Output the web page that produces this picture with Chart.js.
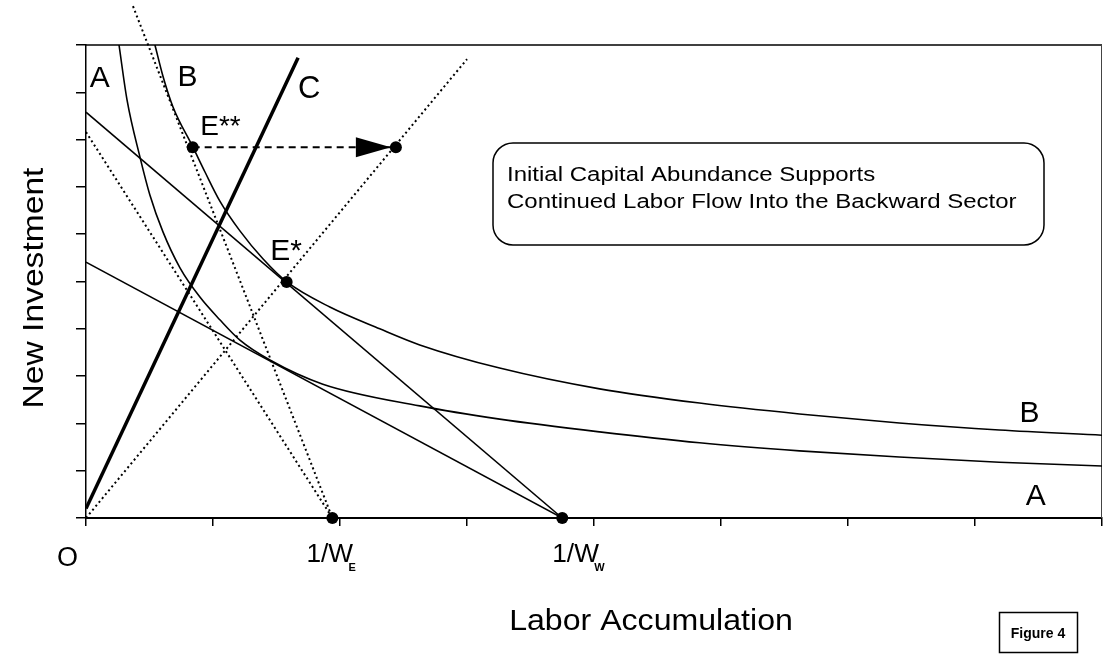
<!DOCTYPE html>
<html>
<head>
<meta charset="utf-8">
<script src="https://cdn.jsdelivr.net/npm/chart.js@4.4.1/dist/chart.umd.min.js"></script>
<style>
  html, body { margin: 0; padding: 0; background: #fff; }
  #wrap { width: 1103px; height: 664px; }
</style>
</head>
<body>
<div id="wrap"><canvas id="chart" width="1103" height="664"></canvas></div>
<script>
// Curve A
const curveA = [
    { x: 0.26, y: 10.0 }, { x: 0.323, y: 8.84 }, { x: 0.425, y: 7.63 }, { x: 0.503, y: 6.83 },
    { x: 0.606, y: 6.05 }, { x: 0.74, y: 5.29 }, { x: 0.897, y: 4.67 }, { x: 1.054, y: 4.19 },
    { x: 1.212, y: 3.76 }, { x: 1.448, y: 3.34 }, { x: 1.865, y: 2.83 }, { x: 2.628, y: 2.37 },
    { x: 3.257, y: 2.09 }, { x: 4.044, y: 1.82 }, { x: 4.831, y: 1.59 }, { x: 5.618, y: 1.42 },
    { x: 6.404, y: 1.29 }, { x: 7.191, y: 1.18 }, { x: 8.0, y: 1.10 }
]

// Curve B
const curveB = [
    { x: 0.543, y: 10.0 }, { x: 0.606, y: 9.34 }, { x: 0.685, y: 8.69 }, { x: 0.842, y: 7.84 },
    { x: 0.936, y: 7.32 }, { x: 1.054, y: 6.70 }, { x: 1.212, y: 6.07 }, { x: 1.393, y: 5.48 },
    { x: 1.582, y: 4.99 }, { x: 1.92, y: 4.46 }, { x: 2.313, y: 4.00 }, { x: 2.628, y: 3.66 },
    { x: 3.257, y: 3.17 }, { x: 4.044, y: 2.73 }, { x: 4.831, y: 2.43 }, { x: 5.618, y: 2.20 },
    { x: 6.404, y: 2.01 }, { x: 7.191, y: 1.86 }, { x: 8.0, y: 1.75 }
]

// Line C (thick)
const lineC = [{ x: 0, y: 0.2 }, { x: 1.67, y: 9.73 }]

// Budget lines ending at 1/wW
const budgetW1 = [{ x: 0, y: 8.58 }, { x: 3.75, y: 0 }]
const budgetW2 = [{ x: 0, y: 5.41 }, { x: 3.75, y: 0 }]

// Dotted lines ending at 1/wE, and the ray from O
const budgetE1 = [{ x: 0, y: 8.16 }, { x: 1.94, y: 0 }]
const budgetE2 = [{ x: 0.37, y: 10.82 }, { x: 1.94, y: 0 }]
const rayO = [{ x: 0, y: 0 }, { x: 3.0, y: 9.7 }]

// Horizontal move E** -> ray
const arrowMove = [{ x: 0.84, y: 7.84 }, { x: 2.44, y: 7.84 }]

// Marked points: E**, arrow end, E*, 1/wE, 1/wW
const markedPts = [
    { x: 0.84, y: 7.84 }, { x: 2.44, y: 7.84 }, { x: 1.58, y: 4.99 },
    { x: 1.94, y: 0 }, { x: 3.75, y: 0 }
]

// Labels inside the plot (data units)
const plotLabels = [
    { text: 'A', x: 0.03, y: 9.11, size: 30 },
    { text: 'B', x: 0.72, y: 9.13, size: 30 },
    { text: 'C', x: 1.67, y: 8.88, size: 31 },
    { text: 'E**', x: 0.90, y: 8.10, size: 28 },
    { text: 'E*', x: 1.45, y: 5.45, size: 30 },
    { text: 'B', x: 7.35, y: 2.03, size: 30 },
    { text: 'A', x: 7.40, y: 0.27, size: 30 },
]

const boxLines = [
    'Initial Capital Abundance Supports',
    'Continued Labor Flow Into the Backward Sector'
]

const FONT = '"Liberation Sans", Arial, Helvetica, sans-serif'

const drawText = (ctx, text, x, y, size, opts = {}) => {
    const { align = 'left', stretch = 1, weight = 'normal', baseline = 'alphabetic', rotate = 0 } = opts
    ctx.save()
    ctx.font = `${weight} ${size}px ${FONT}`
    ctx.fillStyle = '#000'
    ctx.textAlign = align
    ctx.textBaseline = baseline
    ctx.translate(x, y)
    if (rotate) ctx.rotate(rotate)
    ctx.scale(stretch, 1)
    ctx.fillText(text, 0, 0)
    ctx.restore()
}

// Frame, texts and arrow head
const decorations = {
    id: 'decorations',
    beforeDatasetsDraw(chart) {
        const { ctx, chartArea: a } = chart
        ctx.save()
        ctx.strokeStyle = '#000'
        ctx.lineWidth = 1.5
        ctx.beginPath()
        ctx.moveTo(a.left, a.top)
        ctx.lineTo(a.right, a.top)
        ctx.stroke()
        ctx.lineWidth = 1
        ctx.strokeStyle = '#444'
        ctx.beginPath()
        ctx.moveTo(a.right - 0.5, a.top)
        ctx.lineTo(a.right - 0.5, a.bottom)
        ctx.stroke()
        ctx.restore()
    },
    afterDatasetsDraw(chart) {
        const { ctx, scales: { x, y } } = chart

        // arrow head
        const meta = chart.getDatasetMeta(7)
        const end = meta.data[meta.data.length - 1]
        ctx.save()
        ctx.fillStyle = '#000'
        ctx.beginPath()
        ctx.moveTo(end.x - 5, end.y)
        ctx.lineTo(end.x - 40, end.y - 10)
        ctx.lineTo(end.x - 40, end.y + 10)
        ctx.closePath()
        ctx.fill()
        ctx.restore()

        // labels on the plot
        for (const l of plotLabels) {
            drawText(ctx, l.text, x.getPixelForValue(l.x), y.getPixelForValue(l.y), l.size)
        }

        // labels below the axis
        const base = y.getPixelForValue(0)
        drawText(ctx, 'O', x.getPixelForValue(0) - 29, base + 48, 27)
        drawText(ctx, '1/W', x.getPixelForValue(1.94) - 26, base + 44, 25, { stretch: 1.05 })
        drawText(ctx, 'E', x.getPixelForValue(1.94) + 16, base + 53, 11, { weight: 'bold' })
        drawText(ctx, '1/W', x.getPixelForValue(3.75) - 10, base + 44, 25, { stretch: 1.05 })
        drawText(ctx, 'W', x.getPixelForValue(3.75) + 32, base + 53, 11, { weight: 'bold' })

        // axis titles
        drawText(ctx, 'Labor Accumulation', 651, 630, 30, { align: 'center', stretch: 1.07 })
        drawText(ctx, 'New Investment', 35, 288, 30, { align: 'center', baseline: 'middle', stretch: 1.12, rotate: -Math.PI / 2 })

        // note box
        ctx.save()
        ctx.strokeStyle = '#000'
        ctx.lineWidth = 1.5
        ctx.beginPath()
        ctx.roundRect(493, 143, 551, 102, 20)
        ctx.stroke()
        ctx.restore()
        drawText(ctx, boxLines[0], 507, 181, 20, { stretch: 1.2 })
        drawText(ctx, boxLines[1], 507, 208, 20, { stretch: 1.2 })

        // figure tag
        ctx.save()
        ctx.strokeStyle = '#000'
        ctx.lineWidth = 1.5
        ctx.strokeRect(999.5, 612.5, 78, 40)
        ctx.restore()
        drawText(ctx, 'Figure 4', 1038, 638, 14, { align: 'center', weight: 'bold' })
    }
}

const solid = (data, width) => ({
    data, showLine: true, borderColor: '#000', borderWidth: width,
    pointRadius: 0, fill: false
})
const dotted = (data) => ({ ...solid(data, 2), borderDash: [2, 3] })

const ctx = document.getElementById('chart').getContext('2d')

const chart = new Chart(ctx, {
    type: 'scatter',
    data: {
        datasets: [
            { ...solid(curveA, 1.6), cubicInterpolationMode: 'monotone' },
            { ...solid(curveB, 1.6), cubicInterpolationMode: 'monotone' },
            solid(lineC, 3.5),
            solid(budgetW1, 1.5),
            solid(budgetW2, 1.5),
            dotted(budgetE1),
            { ...dotted(budgetE2), clip: false },
            { ...solid(arrowMove, 2), borderDash: [7, 5] },
            dotted(rayO),
            {
                data: markedPts, showLine: false, pointRadius: 6, clip: false,
                pointBackgroundColor: '#000', pointBorderColor: '#000', pointBorderWidth: 0
            }
        ]
    },
    options: {
        responsive: false,
        animation: false,
        layout: { autoPadding: false, padding: { top: 45, right: 1, left: 0, bottom: 0 } },
        plugins: { legend: { display: false }, tooltip: { enabled: false } },
        scales: {
            x: {
                type: 'linear', min: 0, max: 8,
                ticks: { display: false, stepSize: 1 },
                grid: { drawOnChartArea: false, drawTicks: true, tickLength: 8, color: '#000', lineWidth: 1.5 },
                border: { display: true, color: '#000', width: 2 },
                afterFit: s => { s.height = 146 }
            },
            y: {
                type: 'linear', min: 0, max: 10,
                ticks: { display: false, stepSize: 1 },
                grid: { drawOnChartArea: false, drawTicks: true, tickLength: 10, color: '#000', lineWidth: 1.5 },
                border: { display: true, color: '#000', width: 1.5 },
                afterFit: s => { s.width = 86 }
            }
        }
    },
    plugins: [decorations]
})
</script>
</body>
</html>
